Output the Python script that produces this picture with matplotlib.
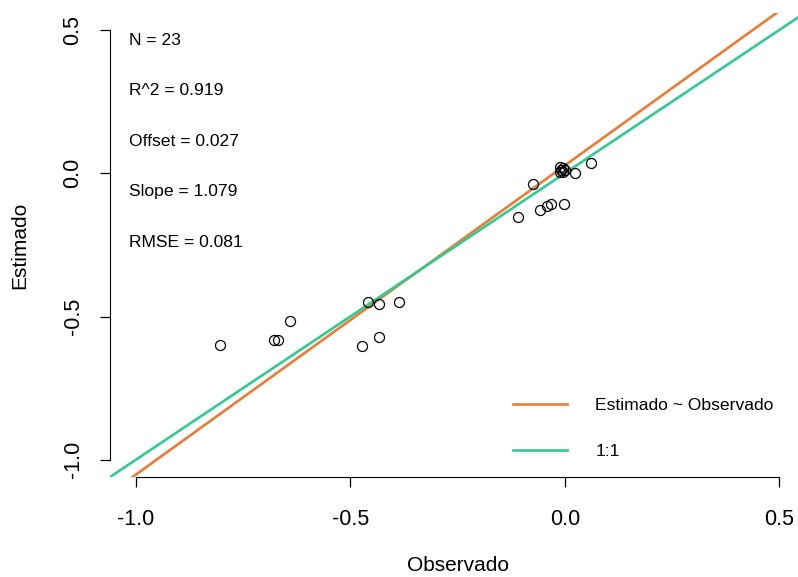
import numpy as np
import matplotlib
matplotlib.use("Agg")
import matplotlib.pyplot as plt
import matplotlib.ticker as mticker

plt.rcParams["font.family"] = ["Liberation Sans", "DejaVu Sans"]
plt.rcParams["axes.unicode_minus"] = False

# ── data ──────────────────────────────────────────────────────────────────────
observado = [-0.803, -0.677, -0.669, -0.640, -0.473, -0.459, -0.434, -0.432,
             -0.386, -0.109, -0.075, -0.058, -0.041, -0.032, -0.012, -0.010,
             -0.008, -0.005, -0.003, 0.000, -0.001, 0.025, 0.062]
estimado = [-0.600, -0.582, -0.582, -0.516, -0.604, -0.449, -0.455, -0.571,
            -0.449, -0.152, -0.038, -0.129, -0.114, -0.108, 0.004, 0.022,
            0.013, 0.018, 0.006, 0.010, -0.109, 0.000, 0.036]

N = 23
R2 = 0.919
OFFSET = 0.027
SLOPE = 1.079
RMSE = 0.081

TICKS = [-1.0, -0.5, 0.0, 0.5]
ORANGE = "#EC7B34"
GREEN = "#2ECC91"

# ── figure ────────────────────────────────────────────────────────────────────
W, H = 798, 577
fig = plt.figure(figsize=(W / 100, H / 100), dpi=100)
ax = fig.add_axes([110 / W, 1 - 477 / H, (805 - 110) / W, (477 - 12.8) / H])
ax.set_xlim(-1.06, 0.56)
ax.set_ylim(-1.06, 0.56)

ax.axline((0, OFFSET), slope=SLOPE, color=ORANGE, lw=1.9, label="Estimado ~ Observado")
ax.axline((0, 0), slope=1, color=GREEN, lw=1.9, label="1:1")
ax.plot(observado, estimado, "o", mfc="none", mec="black", ms=7.2, mew=0.9, zorder=3)

stats = [f"N = {N}", f"R^2 = {R2}", f"Offset = {OFFSET}",
         f"Slope = {SLOPE}", f"RMSE = {RMSE}"]
for i, s in enumerate(stats):
    ax.text(-1.016, 0.465 - i * 0.1765, s, fontsize=12.6, va="center", ha="left")

# R-style axes
for side in ["top", "right"]:
    ax.spines[side].set_visible(False)
ax.spines["left"].set_bounds(-1.0, 0.5)
ax.spines["bottom"].set_bounds(-1.0, 0.5)
ax.set_xticks(TICKS)
ax.set_yticks(TICKS)
ax.xaxis.set_major_formatter(mticker.FormatStrFormatter("%.1f"))
ax.yaxis.set_major_formatter(mticker.FormatStrFormatter("%.1f"))
ax.tick_params(length=7, width=0.9, labelsize=15.5, pad=12)
ax.tick_params(axis="x", pad=16)
plt.setp(ax.get_yticklabels(), rotation=90, va="center")
ax.set_xlabel("Observado", fontsize=15, labelpad=19)
ax.set_ylabel("Estimado", fontsize=15, labelpad=24)

ax.legend(loc="upper left", bbox_to_anchor=(513 / W, 1 - 398 / H),
          bbox_transform=fig.transFigure, frameon=False, fontsize=12.6,
          handlelength=3.1, handletextpad=1.6, labelspacing=1.75,
          borderpad=0, borderaxespad=0)

fig.savefig("out.png", dpi=100)
